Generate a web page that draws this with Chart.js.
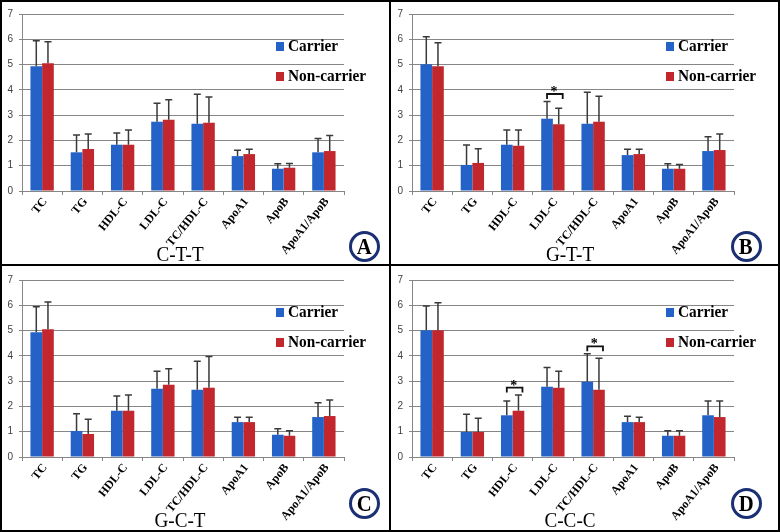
<!DOCTYPE html>
<html>
<head>
<meta charset="utf-8">
<script src="https://cdn.jsdelivr.net/npm/chart.js@4.4.1/dist/chart.umd.min.js"></script>
<style>
  body { margin: 0; background: #fff; }
  #wrap { position: relative; width: 780px; height: 532px; overflow: hidden; }
  .panel { position: absolute; width: 390px; height: 266px; }
  .panel canvas { position: absolute; left: 0; top: 0; }
  .sq { position: absolute; width: 8px; height: 9px; }
  .lg { position: absolute; left: 288px; font: bold 17px "Liberation Serif", serif; line-height: 17px;
        white-space: nowrap; transform: scaleX(0.9); transform-origin: left center; color: #000; }
  .ttl { position: absolute; left: 80px; width: 200px; top: 243px; text-align: center;
         font: 22px "Liberation Serif", serif; line-height: 22px; transform: scaleX(0.87); color: #000; }
  .circ { position: absolute; width: 31px; height: 31px; box-sizing: border-box; border: 3px solid #1b2f73;
          border-radius: 50%; display: flex; align-items: center; justify-content: center;
          font: bold 23px "Liberation Serif", serif; line-height: 23px; color: #000; }
  .circ span { display: inline-block; transform: scaleX(0.9); }
  .line { position: absolute; background: #000; z-index: 10; }
  #frame { position: absolute; left: 0; top: 0; width: 780px; height: 532px; box-sizing: border-box;
           border: 2px solid #000; z-index: 10; pointer-events: none; }
</style>
</head>
<body>
<div id="wrap">
  <div class="panel" id="pA" style="left:0;top:0"><canvas id="cA" width="390" height="266"></canvas></div>
  <div class="panel" id="pB" style="left:390px;top:0"><canvas id="cB" width="390" height="266"></canvas></div>
  <div class="panel" id="pC" style="left:0;top:266px"><canvas id="cC" width="390" height="266"></canvas></div>
  <div class="panel" id="pD" style="left:390px;top:266px"><canvas id="cD" width="390" height="266"></canvas></div>
  <div class="line" style="left:389px;top:0;width:2px;height:532px"></div>
  <div class="line" style="left:0;top:264px;width:780px;height:2px"></div>
  <div id="frame"></div>
</div>
<script>
var categories = ['TC', 'TG', 'HDL-C', 'LDL-C', 'TC/HDL-C', 'ApoA1', 'ApoB', 'ApoA1/ApoB'];
var seriesNames = ['Carrier', 'Non-carrier'];

// C-T-T
var carrierA   = [4.93, 1.53, 1.83, 2.74, 2.66, 1.38, 0.88, 1.53];
var carrierSdA = [1.01, 0.68, 0.46, 0.73, 1.17, 0.23, 0.20, 0.55];
var nonA       = [5.05, 1.66, 1.83, 2.82, 2.70, 1.46, 0.92, 1.58];
var nonSdA     = [0.85, 0.59, 0.58, 0.79, 1.02, 0.19, 0.17, 0.61];
// G-T-T
var carrierB   = [5.01, 1.03, 1.83, 2.86, 2.66, 1.42, 0.88, 1.58];
var carrierSdB = [1.09, 0.79, 0.58, 0.68, 1.25, 0.23, 0.20, 0.57];
var nonB       = [4.93, 1.11, 1.79, 2.64, 2.74, 1.46, 0.88, 1.62];
var nonSdB     = [0.93, 0.56, 0.62, 0.63, 1.01, 0.19, 0.17, 0.63];
// G-C-T
var carrierC   = [4.93, 1.03, 1.83, 2.70, 2.66, 1.38, 0.88, 1.58];
var carrierSdC = [1.01, 0.68, 0.58, 0.69, 1.13, 0.19, 0.24, 0.57];
var nonC       = [5.05, 0.91, 1.83, 2.86, 2.74, 1.38, 0.84, 1.62];
var nonSdC     = [1.08, 0.58, 0.62, 0.63, 1.23, 0.19, 0.20, 0.63];
// C-C-C
var carrierD   = [5.01, 0.99, 1.65, 2.78, 2.98, 1.38, 0.84, 1.65];
var carrierSdD = [0.96, 0.70, 0.56, 0.76, 1.10, 0.23, 0.20, 0.56];
var nonD       = [5.01, 0.99, 1.83, 2.74, 2.66, 1.38, 0.84, 1.58];
var nonSdD     = [1.09, 0.54, 0.62, 0.65, 1.25, 0.19, 0.20, 0.63];

// significant pairs (category index)
var sigB = [3];
var sigD = [2, 4];

var blue = '#2462c8';
var red = '#c1272d';
var gridGray = '#868686';

// error bars + significance brackets
var errPlugin = {
  id: 'errbars',
  afterDatasetsDraw: function(chart, args, opts) {
    var ctx = chart.ctx, y = chart.scales.y;
    var tops = [[], []];
    ctx.save();
    ctx.strokeStyle = '#3a3a3a';
    ctx.lineWidth = 1.5;
    chart.data.datasets.forEach(function(ds, i) {
      var meta = chart.getDatasetMeta(i);
      meta.data.forEach(function(bar, j) {
        var top = y.getPixelForValue(ds.data[j] + opts.sd[i][j]);
        tops[i][j] = top;
        ctx.beginPath();
        ctx.moveTo(bar.x, bar.y);
        ctx.lineTo(bar.x, top);
        ctx.moveTo(bar.x - 3.5, top);
        ctx.lineTo(bar.x + 3.5, top);
        ctx.stroke();
      });
    });
    var m0 = chart.getDatasetMeta(0), m1 = chart.getDatasetMeta(1);
    (opts.sig || []).forEach(function(j) {
      var x1 = m0.data[j].x, x2 = m1.data[j].x + 4;
      var ly = Math.min(tops[0][j], tops[1][j]) - 7.5;
      ctx.strokeStyle = '#111';
      ctx.lineWidth = 1.8;
      ctx.beginPath();
      ctx.moveTo(x1, ly + 5);
      ctx.lineTo(x1, ly);
      ctx.lineTo(x2, ly);
      ctx.lineTo(x2, ly + 5);
      ctx.stroke();
      ctx.fillStyle = '#000';
      ctx.font = 'bold 14px "Liberation Serif", serif';
      ctx.textAlign = 'center';
      ctx.textBaseline = 'alphabetic';
      ctx.fillText('*', (x1 + x2) / 2 - 1, ly + 2);
    });
    ctx.restore();
  }
};

function makePanel(pid, cid, letter, title, carrier, carrierSd, non, nonSd, sig, circX, circY) {
  var p = document.getElementById(pid);
  p.insertAdjacentHTML('beforeend',
    '<div class="sq" style="left:276px;top:42px;background:' + blue + '"></div>' +
    '<div class="lg" style="top:36.5px">' + seriesNames[0] + '</div>' +
    '<div class="sq" style="left:276px;top:72px;background:' + red + '"></div>' +
    '<div class="lg" style="top:66.5px">' + seriesNames[1] + '</div>' +
    '<div class="ttl">' + title + '</div>' +
    '<div class="circ" style="left:' + (circX - 15.5) + 'px;top:' + (circY - 15.5) + 'px"><span>' + letter + '</span></div>');

  var ctx = document.getElementById(cid).getContext('2d');
  return new Chart(ctx, {
    type: 'bar',
    data: {
      labels: categories,
      datasets: [
        { label: seriesNames[0], data: carrier, backgroundColor: blue, categoryPercentage: 0.58, barPercentage: 1.0 },
        { label: seriesNames[1], data: non, backgroundColor: red, categoryPercentage: 0.58, barPercentage: 1.0 }
      ]
    },
    options: {
      responsive: false,
      devicePixelRatio: 1,
      animation: false,
      layout: { padding: { left: 0, right: 46, top: 14, bottom: 0 } },
      plugins: {
        legend: { display: false },
        tooltip: { enabled: false },
        errbars: { sd: [carrierSd, nonSd], sig: sig }
      },
      scales: {
        y: {
          min: 0, max: 7,
          ticks: { stepSize: 1, color: '#404040', padding: 6, font: { family: '"Liberation Sans", Arial, sans-serif', size: 10 } },
          grid: { color: gridGray, tickLength: 3 },
          border: { color: gridGray },
          afterFit: function(s) { s.width = 22; }
        },
        x: {
          ticks: { minRotation: 51, maxRotation: 51, color: '#000', padding: 0, labelOffset: 3,
                   font: { family: '"Liberation Serif", "Times New Roman", serif', size: 12, weight: 'bold' } },
          grid: { drawOnChartArea: false, color: gridGray, tickLength: 4, offset: true },
          border: { color: gridGray },
          afterFit: function(s) { s.height = 75; }
        }
      }
    },
    plugins: [errPlugin]
  });
}

makePanel('pA', 'cA', 'A', 'C-T-T', carrierA, carrierSdA, nonA, nonSdA, [], 364, 246);
makePanel('pB', 'cB', 'B', 'G-T-T', carrierB, carrierSdB, nonB, nonSdB, sigB, 356, 246.5);
makePanel('pC', 'cC', 'C', 'G-C-T', carrierC, carrierSdC, nonC, nonSdC, [], 364, 237);
makePanel('pD', 'cD', 'D', 'C-C-C', carrierD, carrierSdD, nonD, nonSdD, sigD, 356, 237);
</script>
</body>
</html>
